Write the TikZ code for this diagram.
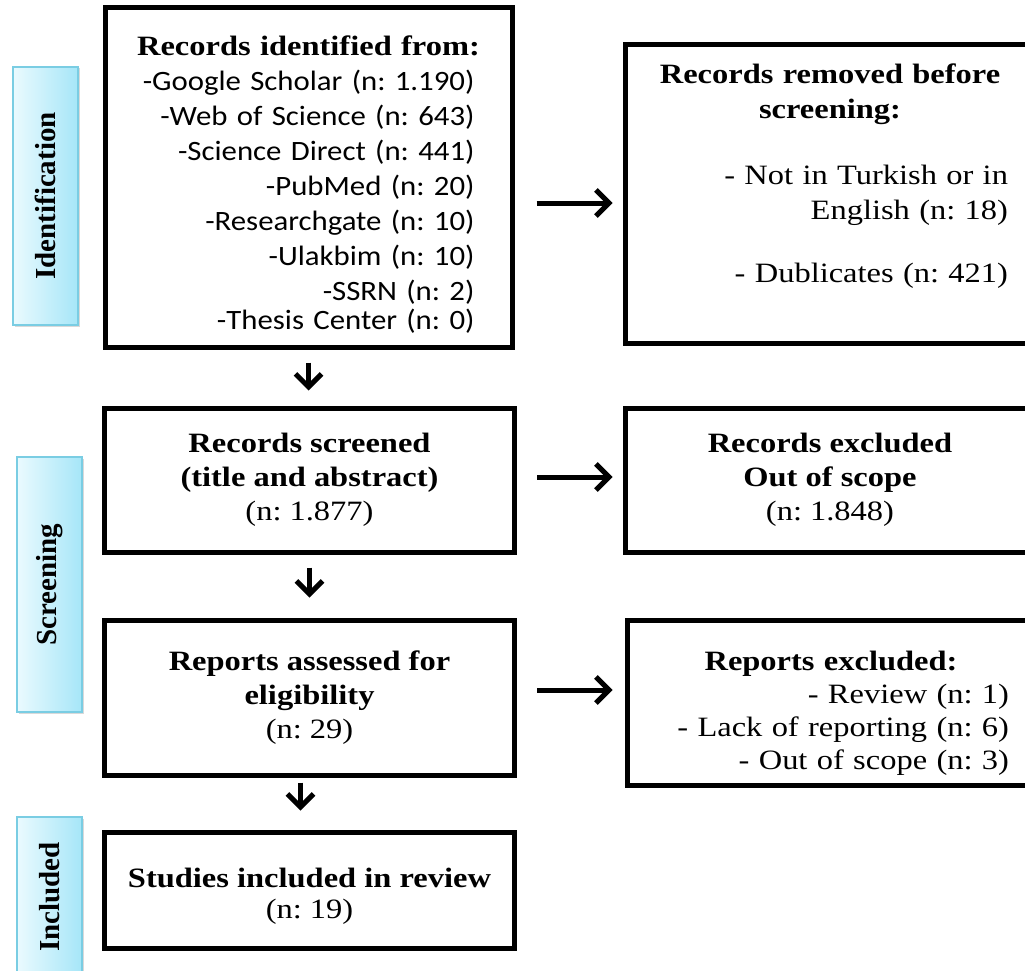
\documentclass[tikz,border=0pt]{standalone}
\usepackage{fontspec}
\setmainfont{Liberation Serif}[FakeStretch=1.16]
\newfontfamily\listfont{Carlito}[FakeStretch=1.1]
\newfontfamily\stagefont{Liberation Serif}
\usetikzlibrary{%
   arrows.meta,%
   shadows%
}
\definecolor{stageleft}{HTML}{EAFAFE}
\definecolor{stageright}{HTML}{A6E6F8}
\definecolor{stageline}{HTML}{7ACDE3}

\begin{document}
\frenchspacing
\begin{tikzpicture}[x=1pt,y=-1pt,
	stage/.style={
	rectangle,
	minimum width=65pt,
	inner sep=0pt,
	draw=stageline,
	line width=1.2pt,
	left color=stageleft,
	right color=stageright,
	drop shadow={shadow xshift=1.5pt,shadow yshift=-1.5pt,opacity=.3},
	font=\stagefont\bfseries\fontsize{29}{34}\selectfont
	},box/.style={
	rectangle,
	draw=black,
	line width=5pt,
	inner sep=0pt,
	fill=white,
	font=\fontsize{28}{34}\selectfont
	},flow/.style={
	-{Straight Barb[length=13pt,width=26pt]},
	line width=5pt
	}
]

\useasboundingbox (0,0) rectangle (1025,971);

% Stage labels
\node (stageid) [stage, minimum height=258pt] at (45.5,196) {\rotatebox{90}{Identification}};
\node (stagescr) [stage, minimum height=255pt] at (49.5,584.5) {\rotatebox{90}{Screening}};
\node (stageinc) [stage, minimum height=160pt] at (49.5,897) {\rotatebox{90}{Included}};

% Left column
\node (identified) [box, minimum width=407pt, minimum height=339pt, text width=370pt,
	font=\fontsize{28}{35}\selectfont] at (308.5,177.5) {%
	{\centering\bfseries\rule{0pt}{33pt}Records identified from:\par}
	{\raggedleft\rightskip=19pt\relax\listfont -Google Scholar (n: 1.190)\\ -Web of Science (n: 643)\\
	-Science Direct (n: 441)\\ -PubMed (n: 20)\\ -Researchgate (n: 10)\\
	-Ulakbim (n: 10)\\ -SSRN (n: 2)\\[-6pt] -Thesis Center (n: 0)\par}};
\node (screened) [box, minimum width=410pt, minimum height=144pt, align=center] at (309.5,480)
	{\textbf{Records screened}\\ \textbf{(title and abstract)}\\ (n: 1.877)};
\node (assessed) [box, minimum width=410pt, minimum height=155pt, align=center] at (309.5,697.5)
	{\textbf{Reports assessed for}\\ \textbf{eligibility}\\ (n: 29)};
\node (included) [box, minimum width=410pt, minimum height=116pt, align=center] at (309.5,890)
	{\rule{0pt}{31pt}\textbf{Studies included in review}\\[-3pt] (n: 19)};

% Right column
\node (removed) [box, minimum width=410pt, minimum height=298pt, text width=356pt,
	font=\fontsize{28}{35}\selectfont] at (830,194) {%
	{\centering\bfseries Records removed before\\ screening:\par}
	\vspace{31pt}
	{\raggedleft - Not in Turkish or in\\ English (n: 18)\\[28pt] - Dublicates (n: 421)\\[6pt]\mbox{}\par}};
\node (excluded) [box, minimum width=410pt, minimum height=144pt, align=center] at (830,480)
	{\textbf{Records excluded}\\ \textbf{Out of scope}\\ (n: 1.848)};
\node (repexcluded) [box, minimum width=408pt, minimum height=165pt, text width=356pt,
	font=\fontsize{28}{33}\selectfont] at (831,702.5) {%
	{\centering\bfseries\rule{0pt}{41pt}Reports excluded:\par}
	{\raggedleft - Review (n: 1)\\ - Lack of reporting (n: 6)\\ - Out of scope (n: 3)\par}};

% Connectors
\draw[flow, shorten <=13pt, shorten >=15pt] (identified.south) -- (identified.south |- screened.north);
\draw[flow, shorten <=13pt, shorten >=20pt] (screened.south) -- (screened.south |- assessed.north);
\draw[flow, shorten <=5pt, shorten >=19pt] ([xshift=-9pt]assessed.south) -- ([xshift=-9pt]assessed.south |- included.north);
\draw[flow, shorten <=22pt, shorten >=10pt] ([yshift=-25.5pt]identified.east) -- ([yshift=-25.5pt]identified.east -| removed.west);
\draw[flow, shorten <=20pt, shorten >=10pt] ([yshift=3pt]screened.east) -- ([yshift=3pt]screened.east -| excluded.west);
\draw[flow, shorten <=20pt, shorten >=12pt] ([yshift=7.5pt]assessed.east) -- ([yshift=7.5pt]assessed.east -| repexcluded.west);

\end{tikzpicture}
\end{document}
